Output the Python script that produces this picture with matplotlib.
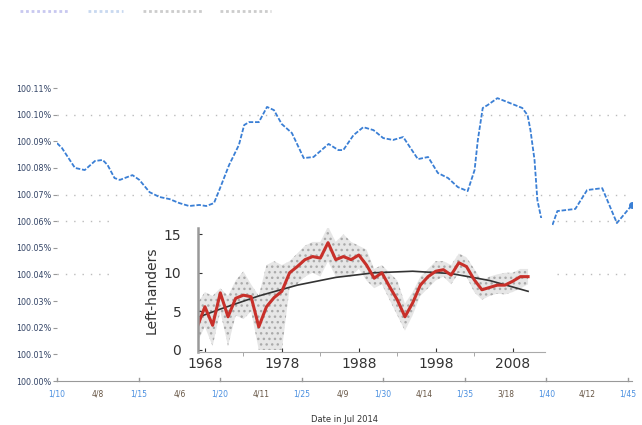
import matplotlib.pyplot as plt
from matplotlib.lines import Line2D
import numpy as np

# --- main (blue) series, x in label steps, y in tick steps ---
main_x = [0, 0.12, 0.44, 0.68, 0.93, 1.12, 1.24, 1.41, 1.54, 1.85, 2.02, 2.27, 2.51, 2.76,
          3.0, 3.24, 3.49, 3.66, 3.85, 3.98, 4.22, 4.46, 4.59, 4.71, 4.95, 5.15, 5.32, 5.51,
          5.76, 6.05, 6.29, 6.66, 6.90, 7.02, 7.27, 7.51, 7.76, 8.0, 8.24, 8.49, 8.85, 9.10,
          9.34, 9.59, 9.83, 10.07, 10.24, 10.32, 10.44, 10.56, 10.80, 11.05, 11.41, 11.54,
          11.61, 11.71, 11.78, 11.90, np.nan, 12.15, 12.27, 12.71, 13.0, 13.37, 13.73, 14.1]
main_y = [8.93, 8.75, 8.0, 7.92, 8.26, 8.30, 8.11, 7.62, 7.55, 7.73, 7.55, 7.09, 6.91, 6.83,
          6.68, 6.57, 6.61, 6.57, 6.68, 7.17, 8.11, 8.86, 9.61, 9.72, 9.72, 10.29, 10.17, 9.65,
          9.31, 8.37, 8.41, 8.90, 8.67, 8.67, 9.23, 9.53, 9.42, 9.12, 9.05, 9.16, 8.33, 8.41,
          7.81, 7.62, 7.28, 7.13, 7.92, 9.05, 10.25, 10.36, 10.62, 10.47, 10.25, 9.98,
          9.42, 8.30, 6.79, 5.93, np.nan, 5.86, 6.38, 6.46, 7.17, 7.24, 5.93, 6.61]
y_labels = ["100.%02d%%" % i for i in range(12)]
x_labels = ["1/10", "4/8", "1/15", "4/6", "1/20", "4/11", "1/25", "4/9",
            "1/30", "4/14", "1/35", "3/18", "1/40", "4/12", "1/45"]
grid_levels = [10, 7, 6, 4]

# --- inset: left-handers ---
years = list(range(1967, 2011))
lefties = [3.0, 5.6, 3.2, 7.4, 4.3, 6.7, 7.1, 6.9, 3.0, 5.6, 6.8, 7.6, 10.0, 10.8, 11.7,
           12.1, 11.9, 13.9, 11.7, 12.1, 11.7, 12.3, 11.0, 9.3, 10.0, 8.2, 6.5, 4.3, 6.1,
           8.4, 9.5, 10.2, 10.4, 9.7, 11.3, 10.8, 9.1, 7.8, 8.1, 8.4, 8.4, 8.9, 9.5, 9.5]
band_hi = [6, 7.5, 7, 8, 7, 9, 10.2, 8.5, 7, 11, 11.5, 11, 11.5, 12.5, 13.5, 14, 14, 16,
           14, 15, 14, 13.5, 13, 10.5, 11, 10, 9, 6, 7.5, 9.5, 10.5, 11.5, 11.5, 11, 12.5,
           12, 10.5, 9, 9.5, 9.8, 10, 10, 10.5, 10.5]
band_lo = [1, 3, 0.5, 5, 0.5, 4.5, 4, 5, 0, 0, 0, 0, 8, 8.5, 9.5, 10, 9.5, 11.5, 9.5, 9.5,
           9.5, 10.5, 9, 8, 8.5, 6.5, 4.5, 2.5, 4.5, 7, 8, 9, 9.5, 8.5, 10, 9.5, 7.5, 6.5,
           7, 7.3, 7.2, 7.5, 8, 8.5]
trend_years = [1967, 1970, 1975, 1980, 1985, 1990, 1995, 2000, 2005, 2010]
trend_vals = [4.2, 5.3, 7.0, 8.4, 9.4, 10.0, 10.2, 9.9, 9.0, 7.6]

fig = plt.figure(figsize=(6.42, 4.25), dpi=100)
ax = fig.add_axes([0.0888, 0.1035, 0.8956, 0.6894])

for g in grid_levels:
    ax.axhline(g, color='#bbbbbb', lw=1, ls=(0, (1, 5)), zorder=0)
ax.plot(main_x, main_y, color='#3a7fd5', lw=1.3, ls=(0, (2.5, 1)))
ax.plot(main_x[-1], main_y[-1], 'o', color='#3a7fd5', ms=4)

ax.set_xlim(0, 14.1)
ax.set_ylim(0, 11)
ax.set_yticks(range(12))
ax.set_yticklabels(y_labels, fontsize=5.8, color='#334466')
ax.set_xticks(range(15))
ax.set_xticklabels(x_labels, fontsize=5.5)
for i, t in enumerate(ax.get_xticklabels()):
    t.set_color('#4a8fe0' if i % 2 == 0 else '#665544')
ax.tick_params(axis='y', length=3, color='#999999', pad=1, direction='out')
ax.tick_params(axis='x', length=0, pad=6)
for tx in range(0, 15, 2):
    ax.plot([tx, tx], [0, 0.12], color='#999999', lw=1, clip_on=False)
for s in ['top', 'right', 'left']:
    ax.spines[s].set_visible(False)
ax.spines['bottom'].set_color('#999999')
ax.spines['bottom'].set_linestyle((0, (4, 1)))
ax.set_xlabel("Date in Jul 2014", fontsize=6, color='#333333', labelpad=12)

# legend-like faint marks at the top
for x0, x1, c in [(20, 70, '#c8c8f0'), (88, 123, '#c8d8f0'),
                  (143, 203, '#cccccc'), (220, 271, '#cccccc')]:
    fig.add_artist(Line2D([x0 / 642, x1 / 642], [0.974, 0.974], color=c, lw=2,
                          ls=(0, (1, 1)), transform=fig.transFigure))

# white box behind the inset picture
box = fig.add_axes([112 / 642, (425 - 373) / 425, (552 - 112) / 642, (373 - 218) / 425])
box.set_facecolor('white')
box.axis('off')
box.add_patch(plt.Rectangle((0, 0), 1, 1, color='white', transform=box.transAxes))

ins = fig.add_axes([198 / 642, (425 - 352) / 425, (545 - 198) / 642, (352 - 228) / 425])
ins.set_facecolor('none')
ins.fill_between(years, band_lo, band_hi, facecolor='#e6e6e6', edgecolor='#aaaaaa',
                 hatch='...', lw=0)
ins.plot(trend_years, trend_vals, color='#333333', lw=1.2)
ins.plot(years, lefties, color='#c8302a', lw=2.2)
ins.set_xlim(1967.1, 2012.2)
ins.set_ylim(-0.26, 15.8)
ins.set_xticks([1968, 1978, 1988, 1998, 2008])
ins.set_xticks(range(1973, 2012, 5), minor=True)
ins.set_yticks([0, 5, 10, 15])
ins.tick_params(labelsize=10, colors='#333333', length=3, direction='in')
ins.tick_params(axis='y', pad=12)
ins.tick_params(axis='x', which='minor', length=3, color='#999999')
ins.set_ylabel("Left-handers", fontsize=10, color='#333333', labelpad=4)
for s in ['top', 'right']:
    ins.spines[s].set_visible(False)
ins.spines['left'].set_color('#999999')
ins.spines['left'].set_linewidth(1.8)
ins.spines['bottom'].set_color('#aaaaaa')
ins.spines['bottom'].set_linestyle((0, (3, 1)))

fig.savefig('out.png', dpi=100)
